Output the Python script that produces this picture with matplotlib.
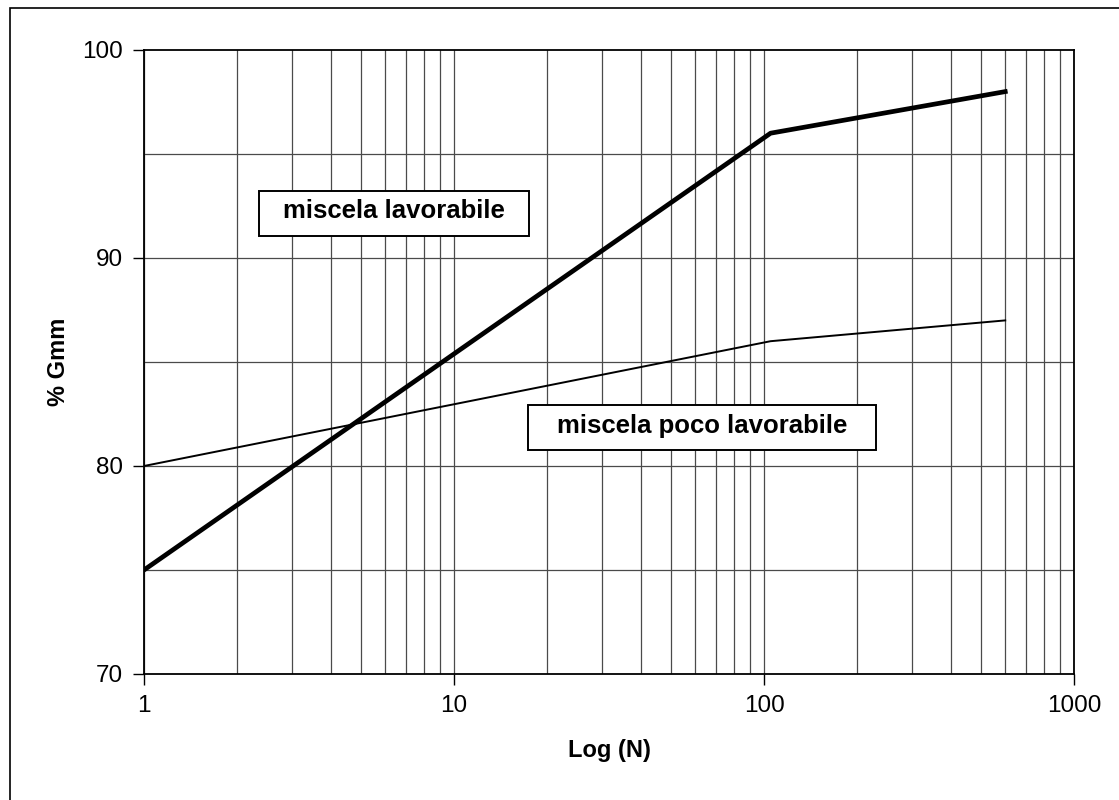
import matplotlib.pyplot as plt
from matplotlib.patches import Rectangle

plt.rcParams['font.family'] = ['Liberation Sans', 'DejaVu Sans']

# data
n_points = [1, 105, 600]
gmm_lavorabile = [75, 96, 98]
gmm_poco = [80, 86, 87]
y_ticks = [70, 80, 90, 100]
y_grid = [75, 80, 85, 90, 95]

fig = plt.figure(figsize=(11.19, 8), dpi=100)
ax = fig.add_axes([144 / 1119, 1 - 674 / 800, 930 / 1119, 624 / 800])

# outer chart border (only left/top visible in the crop)
fig.patches.append(Rectangle((10 / 1119, -0.1), 1.2, 1.1 - 8 / 800,
                             transform=fig.transFigure, fill=False,
                             edgecolor='black', linewidth=1.2))

ax.set_xscale('log')
ax.set_xlim(1, 1000)
ax.set_ylim(70, 100)

# grid
for g in y_grid:
    ax.axhline(g, color='#4a4a4a', linewidth=0.9, zorder=1)
ax.grid(True, which='both', axis='x', color='#4a4a4a', linewidth=0.9, zorder=1)

ax.plot(n_points, gmm_lavorabile, color='black', linewidth=3.4, zorder=3)
ax.plot(n_points, gmm_poco, color='black', linewidth=1.4, zorder=3)

ax.set_yticks(y_ticks)
ax.set_xticks([1, 10, 100, 1000])
ax.set_xticklabels(['1', '10', '100', '1000'])
ax.tick_params(axis='both', which='major', labelsize=17.5, length=8, width=1,
               direction='out', pad=7, colors='black')
ax.tick_params(axis='x', which='minor', length=0)

for s in ax.spines.values():
    s.set_linewidth(1.3)
    s.set_color('black')

ax.set_xlabel('Log (N)', fontsize=17, fontweight='bold', labelpad=16)
ax.set_ylabel('% Gmm', fontsize=17, fontweight='bold', labelpad=9)

# boxed annotations
ax.add_patch(Rectangle((0.1237, 0.7019), 0.2903, 0.0721, transform=ax.transAxes,
                       facecolor='white', edgecolor='black', linewidth=1.4, zorder=4))
ax.text(0.2688, 0.7308, 'miscela lavorabile', transform=ax.transAxes,
        fontsize=18.5, fontweight='bold', ha='center', va='baseline', zorder=5)
ax.add_patch(Rectangle((0.4129, 0.359), 0.3742, 0.0721, transform=ax.transAxes,
                       facecolor='white', edgecolor='black', linewidth=1.4, zorder=4))
ax.text(0.6, 0.3867, 'miscela poco lavorabile', transform=ax.transAxes,
        fontsize=18.5, fontweight='bold', ha='center', va='baseline', zorder=5)

fig.savefig('out.png', dpi=100)
